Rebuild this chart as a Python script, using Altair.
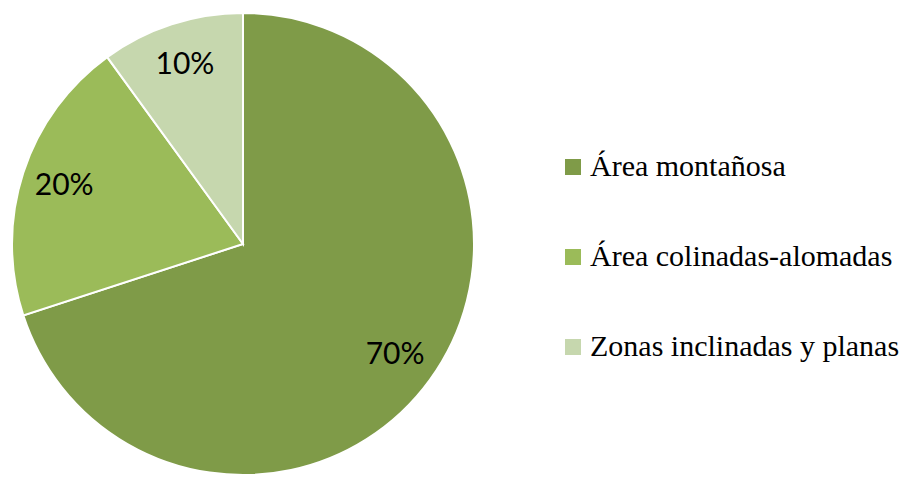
import altair as alt
import pandas as pd

categories = ["Área montañosa", "Área colinadas-alomadas", "Zonas inclinadas y planas"]
values = [70, 20, 10]
labels = ["70%", "20%", "10%"]
colors = ["#7F9B48", "#9BBB59", "#C6D7AE"]

df = pd.DataFrame({"cat": categories, "val": values, "lab": labels, "ord": list(range(len(categories)))})

cx, cy, R = 235, 236, 231

base = alt.Chart(df).encode(
    theta=alt.Theta("val:Q", stack=True),
    order=alt.Order("ord:Q"),
    x=alt.value(cx),
    y=alt.value(cy),
)

shadow = alt.Chart(pd.DataFrame({"v": [1]})).mark_arc(
    radius=R + 1, color="#d4d4d4"
).encode(theta=alt.Theta("v:Q"), x=alt.value(cx + 1), y=alt.value(cy + 1))

pie = base.mark_arc(radius=R, stroke="white", strokeWidth=2).encode(
    color=alt.Color(
        "cat:N",
        scale=alt.Scale(domain=categories, range=colors),
        sort=categories,
        legend=alt.Legend(
            title=None,
            orient="none",
            legendX=550,
            legendY=144,
            symbolType="square",
            symbolSize=256,
            symbolStrokeWidth=0,
            labelFont="Liberation Serif",
            labelFontSize=30,
            labelColor="black",
            labelOffset=2,
            rowPadding=60,
            labelLimit=400,
        ),
    )
)

text = base.mark_text(
    radius=188, font="Lato", fontSize=30, color="black", align="center", baseline="middle"
).encode(text="lab:N")

chart = alt.layer(shadow, pie, text).properties(
    width=902, height=469, autosize=alt.AutoSizeParams(type="none"), padding=0
).configure_view(stroke=None)

chart.save("out.html", embed_options={"renderer": "svg", "actions": False})
